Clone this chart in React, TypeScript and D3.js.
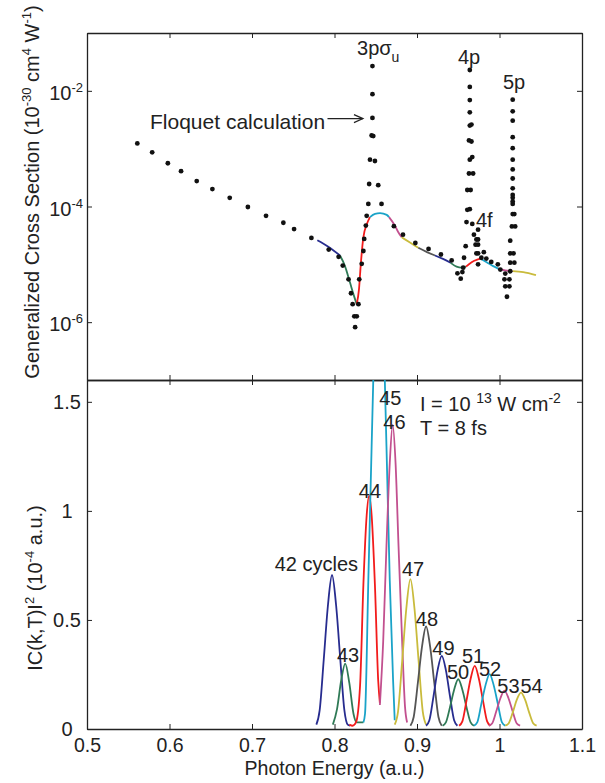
import { useEffect, useRef } from 'react';
import * as d3 from 'd3';

const W = 605;
const H = 783;
const FONT = "'Liberation Sans', Arial, Helvetica, sans-serif";

const xTicks = [0.5, 0.6, 0.7, 0.8, 0.9, 1, 1.1];
const logTicks = [1e-6, 1e-4, 1e-2];
const linTicks = [0, 0.5, 1, 1.5];

const cycles = [42, 43, 44, 45, 46, 47, 48, 49, 50, 51, 52, 53, 54];
const colors = ['#272c8f', '#2f7a56', '#f21c1c', '#1aa3c8', '#c2508f', '#c9bb3c', '#555555',
  '#272c8f', '#2f7a56', '#f21c1c', '#1aa3c8', '#c2508f', '#c9bb3c'];

// Floquet calculation (photon energy, cross section)
const floquet: [number, number][] = [
  [0.561, 1.23e-3], [0.579, 8.65e-4], [0.598, 5.6e-4], [0.614, 4.08e-4], [0.633, 2.75e-4],
  [0.652, 2.0e-4], [0.673, 1.41e-4], [0.695, 9.8e-5], [0.717, 6.9e-5], [0.738, 5.24e-5],
  [0.751, 4.07e-5], [0.772, 2.86e-5], [0.793, 1.8e-5], [0.805, 1.35e-5], [0.810, 9.5e-6],
  [0.817, 5.5e-6], [0.820, 3.16e-6], [0.822, 2.05e-6], [0.829, 2.05e-6], [0.824, 1.26e-6],
  [0.827, 1.26e-6], [0.825, 8.2e-7],
  [0.830, 5.5e-6], [0.833, 1.02e-5], [0.835, 1.7e-5], [0.836, 2.75e-5], [0.838, 4.68e-5],
  [0.839, 6.9e-5], [0.841, 1.11e-4], [0.842, 2.45e-4], [0.843, 6.46e-4], [0.845, 1.69e-3],
  [0.847, 1.65e-3], [0.846, 3.4e-3], [0.846, 8.77e-3], [0.846, 2.68e-2],
  [0.849, 6.12e-4], [0.853, 2.34e-4], [0.857, 1.11e-4], [0.872, 4.57e-5], [0.883, 3.26e-5],
  [0.898, 2.34e-5], [0.914, 1.85e-5], [0.929, 1.48e-5], [0.942, 1.17e-5],
  [0.949, 6.98e-6], [0.953, 5.66e-6], [0.955, 7.35e-6], [0.956, 8.75e-6], [0.957, 1.3e-5],
  [0.959, 2.06e-5], [0.960, 5.37e-5], [0.961, 8.75e-5], [0.964, 9.0e-5], [0.961, 1.93e-4],
  [0.965, 1.93e-4], [0.963, 3.72e-4], [0.968, 3.72e-4], [0.964, 6.46e-4], [0.967, 7.16e-4],
  [0.963, 1.39e-3], [0.966, 1.33e-3], [0.964, 2.51e-3], [0.966, 2.61e-3], [0.964, 4.25e-3],
  [0.964, 6.92e-3], [0.964, 1.17e-2], [0.964, 2.29e-2],
  [0.967, 5.0e-5], [0.969, 3.26e-5], [0.974, 3.98e-5], [0.972, 2.69e-5], [0.974, 2.69e-5],
  [0.971, 2.19e-5], [0.974, 2.19e-5], [0.972, 1.55e-5], [0.974, 1.55e-5], [0.981, 1.62e-5],
  [0.978, 1.3e-5], [0.984, 1.26e-5], [0.990, 1.1e-5], [0.974, 1.0e-5],
  [0.998, 1.0e-5], [1.001, 8.13e-6], [1.007, 6.92e-6], [1.006, 5.5e-6], [1.012, 5.5e-6],
  [1.007, 4.17e-6], [1.012, 4.17e-6], [1.009, 2.75e-6], [1.013, 7.59e-6], [1.013, 1.07e-5],
  [1.018, 1.07e-5], [1.013, 1.55e-5], [1.017, 1.55e-5], [1.013, 2.57e-5], [1.015, 4.52e-5],
  [1.019, 4.52e-5], [1.016, 7.41e-5], [1.018, 7.41e-5], [1.016, 1.11e-4], [1.016, 1.22e-4],
  [1.016, 1.41e-4], [1.016, 1.58e-4], [1.016, 2.06e-4], [1.016, 3.05e-4], [1.016, 4.37e-4],
  [1.016, 6.46e-4], [1.016, 1.02e-3], [1.016, 1.58e-3], [1.016, 3.05e-3], [1.016, 4.42e-3],
  [1.016, 7.02e-3],
];

// cross section extracted from each pulse (one segment per cycle count)
const sectionSegments: [number, number][][] = [
  [[0.7792, 2.6e-5], [0.792, 2.03e-5], [0.8067, 1.42e-5]],
  [[0.8067, 1.42e-5], [0.8127, 9.33e-6], [0.8188, 4.83e-6], [0.8236, 2.85e-6], [0.8269, 2.05e-6]],
  [[0.8269, 2.05e-6], [0.8297, 3.72e-6], [0.8317, 9.33e-6], [0.8349, 2.86e-5], [0.8397, 5.18e-5], [0.843, 6.56e-5]],
  [[0.843, 6.56e-5], [0.8491, 7.46e-5], [0.8552, 7.67e-5], [0.8633, 7.18e-5], [0.8661, 6.56e-5]],
  [[0.8661, 6.56e-5], [0.8733, 4.65e-5], [0.877, 3.66e-5], [0.8815, 2.93e-5]],
  [[0.8815, 2.93e-5], [0.8915, 2.38e-5], [0.9016, 1.93e-5]],
  [[0.9016, 1.93e-5], [0.9121, 1.63e-5], [0.9218, 1.42e-5]],
  [[0.9218, 1.42e-5], [0.9315, 1.24e-5], [0.9408, 1.06e-5]],
  [[0.9408, 1.06e-5], [0.948, 9.1e-6], [0.9541, 8.75e-6], [0.9594, 9.1e-6]],
  [[0.9594, 9.1e-6], [0.9662, 1.09e-5], [0.973, 1.21e-5], [0.9771, 1.25e-5]],
  [[0.9771, 1.25e-5], [0.9844, 1.09e-5], [0.9924, 9.3e-6], [0.9985, 8.43e-6]],
  [[0.9985, 8.43e-6], [1.0067, 7.85e-6], [1.0159, 7.64e-6]],
  [[1.0159, 7.64e-6], [1.0288, 7.35e-6], [1.0442, 6.53e-6]],
];

// |C(k,T)|^2 for each pulse length
const spectra: [number, number][][] = [
  [[0.778, 0.02], [0.782, 0.085], [0.787, 0.32], [0.792, 0.565], [0.797, 0.706], [0.802, 0.565], [0.807, 0.32], [0.812, 0.085], [0.816, 0.02], [0.819, 0.015]],
  [[0.798, 0.02], [0.803, 0.09], [0.808, 0.22], [0.813, 0.30], [0.818, 0.21], [0.823, 0.07], [0.827, 0.03], [0.835, 0.03]],
  [[0.818, 0.02], [0.822, 0.015], [0.826, 0.03], [0.831, 0.2], [0.835, 0.66], [0.839, 0.98], [0.842, 1.07], [0.845, 0.98], [0.849, 0.66], [0.853, 0.22], [0.855, 0.12]],
  [[0.835, 0.03], [0.837, 0.07], [0.841, 0.68], [0.844, 1.14], [0.847, 1.6], [0.850, 2.0], [0.854, 2.3], [0.858, 2.0], [0.861, 1.6], [0.864, 1.14], [0.867, 0.68], [0.871, 0.225], [0.873, 0.04]],
  [[0.855, 0.11], [0.859, 0.4], [0.863, 0.84], [0.867, 1.22], [0.8705, 1.394], [0.874, 1.22], [0.8776, 0.84], [0.882, 0.4], [0.8855, 0.1], [0.888, 0.03]],
  [[0.873, 0.02], [0.877, 0.08], [0.882, 0.31], [0.887, 0.55], [0.892, 0.687], [0.897, 0.55], [0.902, 0.31], [0.907, 0.08], [0.911, 0.02]],
  [[0.892, 0.015], [0.896, 0.055], [0.901, 0.21], [0.906, 0.375], [0.911, 0.47], [0.916, 0.375], [0.921, 0.21], [0.926, 0.055], [0.930, 0.015]],
  [[0.911, 0.015], [0.915, 0.04], [0.920, 0.15], [0.925, 0.27], [0.930, 0.335], [0.935, 0.27], [0.940, 0.15], [0.945, 0.04], [0.949, 0.015]],
  [[0.931, 0.015], [0.935, 0.03], [0.940, 0.10], [0.945, 0.18], [0.950, 0.228], [0.955, 0.18], [0.960, 0.10], [0.965, 0.03], [0.969, 0.015]],
  [[0.951, 0.015], [0.955, 0.035], [0.960, 0.13], [0.965, 0.23], [0.970, 0.289], [0.975, 0.23], [0.980, 0.13], [0.985, 0.035], [0.989, 0.015]],
  [[0.969, 0.015], [0.973, 0.03], [0.978, 0.115], [0.983, 0.20], [0.988, 0.252], [0.993, 0.20], [0.998, 0.115], [1.003, 0.03], [1.007, 0.015]],
  [[0.987, 0.015], [0.991, 0.025], [0.996, 0.08], [1.001, 0.14], [1.006, 0.176], [1.011, 0.14], [1.016, 0.08], [1.021, 0.025], [1.025, 0.015]],
  [[1.007, 0.015], [1.011, 0.025], [1.016, 0.075], [1.021, 0.135], [1.026, 0.167], [1.031, 0.135], [1.036, 0.075], [1.041, 0.025], [1.045, 0.015]],
];

// label anchor (energy, value) for each cycle count
const cycleLabels: [number, number][] = [
  [0.778, 0.724], [0.8164, 0.307], [0.843, 1.06], [0.8676, 1.486], [0.8727, 1.376], [0.8952, 0.702],
  [0.9121, 0.472], [0.9321, 0.339], [0.9497, 0.229], [0.9679, 0.303], [0.9885, 0.243], [1.0109, 0.165], [1.0388, 0.165],
];

export default function App() {
  const svgRef = useRef<SVGSVGElement>(null);

  useEffect(() => {
    if (!svgRef.current) return;
    const svg = d3.select(svgRef.current);
    svg.selectAll('*').remove();

    const left = 87, right = 582, top = 33, mid = 380, bottom = 729;
    const x = d3.scaleLinear().domain([0.5, 1.1]).range([left, right]);
    const yLog = d3.scaleLog().domain([1e-7, 1e-1]).range([mid, top]);
    const yLin = d3.scaleLinear().domain([0, 1.6]).range([bottom, mid]);

    const root = svg.append('g').attr('font-family', FONT).attr('fill', '#222');

    const styleAxis = (g: any) => {
      g.select('.domain').attr('stroke', '#222').attr('stroke-width', 1.3);
      g.selectAll('.tick line').attr('stroke', '#222').attr('stroke-width', 1);
      g.selectAll('text').attr('font-family', FONT).attr('font-size', 19.5).attr('fill', '#222');
    };
    const blank = () => '';

    // frames + inward ticks
    root.append('g').attr('transform', `translate(0,${top})`)
      .call(d3.axisTop(x).tickValues(xTicks).tickSize(-5).tickSizeOuter(0).tickFormat(blank)).call(styleAxis);
    root.append('g').attr('transform', `translate(0,${mid})`)
      .call(d3.axisBottom(x).tickValues(xTicks).tickSize(-5).tickSizeOuter(0).tickFormat(blank)).call(styleAxis);
    root.append('g').attr('transform', `translate(0,${mid})`)
      .call(d3.axisTop(x).tickValues(xTicks).tickSize(-5).tickSizeOuter(0).tickFormat(blank)).call(styleAxis);
    root.append('g').attr('transform', `translate(0,${bottom})`)
      .call(d3.axisBottom(x).tickValues(xTicks).tickSize(-5).tickSizeOuter(0).tickPadding(9)
        .tickFormat(d => d3.format('~g')(d as number))).call(styleAxis);

    root.append('g').attr('transform', `translate(${left},0)`)
      .call(d3.axisLeft(yLog).tickValues(logTicks).tickSize(-5).tickSizeOuter(0).tickFormat(blank)).call(styleAxis);
    root.append('g').attr('transform', `translate(${right},0)`)
      .call(d3.axisRight(yLog).tickValues(logTicks).tickSize(-5).tickSizeOuter(0).tickFormat(blank)).call(styleAxis);
    root.append('g').attr('transform', `translate(${left},0)`)
      .call(d3.axisLeft(yLin).tickValues(linTicks).tickSize(-5).tickSizeOuter(0).tickFormat(blank)).call(styleAxis);
    root.append('g').attr('transform', `translate(${right},0)`)
      .call(d3.axisRight(yLin).tickValues(linTicks).tickSize(-5).tickSizeOuter(0).tickFormat(blank)).call(styleAxis);

    // log tick labels 10^n
    logTicks.forEach(v => {
      const t = root.append('text').attr('x', 83).attr('y', yLog(v) + 9)
        .attr('text-anchor', 'end').attr('font-size', 20);
      t.append('tspan').text('10');
      t.append('tspan').attr('dy', -8).attr('font-size', 13).text(String(Math.round(Math.log10(v))));
    });
    linTicks.forEach(v => {
      root.append('text').attr('x', 67).attr('y', yLin(v) + 7).attr('text-anchor', 'middle')
        .attr('font-size', 20).text(d3.format('~g')(v));
    });

    // axis titles
    const t1 = root.append('text').attr('transform', 'translate(39,192) rotate(-90)')
      .attr('text-anchor', 'middle').attr('font-size', 20);
    t1.append('tspan').text('Generalized Cross Section (10');
    t1.append('tspan').attr('dy', -8).attr('font-size', 13).text('-30');
    t1.append('tspan').attr('dy', 8).text(' cm');
    t1.append('tspan').attr('dy', -8).attr('font-size', 13).text('4');
    t1.append('tspan').attr('dy', 8).text(' W');
    t1.append('tspan').attr('dy', -8).attr('font-size', 13).text('-1');
    t1.append('tspan').attr('dy', 8).text(')');

    const t2 = root.append('text').attr('transform', 'translate(42,588) rotate(-90)')
      .attr('text-anchor', 'middle').attr('font-size', 20);
    t2.append('tspan').text('IC(k,T)I');
    t2.append('tspan').attr('dy', -8).attr('font-size', 13).text('2');
    t2.append('tspan').attr('dy', 8).text(' (10');
    t2.append('tspan').attr('dy', -8).attr('font-size', 13).text('-4');
    t2.append('tspan').attr('dy', 8).text(' a.u.)');

    root.append('text').attr('x', (left + right) / 2).attr('y', 775).attr('text-anchor', 'middle')
      .attr('font-size', 19.5).text('Photon Energy (a.u.)');

    // top panel: theory segments + Floquet dots
    const lineLog = d3.line<[number, number]>().x(d => x(d[0])).y(d => yLog(d[1])).curve(d3.curveMonotoneX);
    sectionSegments.forEach((seg, i) => {
      root.append('path').attr('d', lineLog(seg)).attr('fill', 'none')
        .attr('stroke', colors[i]).attr('stroke-width', 1.8);
    });
    root.append('g').selectAll('circle').data(floquet).join('circle')
      .attr('cx', d => x(d[0])).attr('cy', d => yLog(d[1])).attr('r', 2.4).attr('fill', '#111');

    // top annotations
    const ann = (e: number, v: number, s: string, fs = 20) =>
      root.append('text').attr('x', x(e)).attr('y', yLog(v)).attr('font-size', fs).text(s);
    const s3 = ann(0.8273, 0.0414, '3p\u03c3');
    s3.append('tspan').attr('dy', 7).attr('font-size', 14).text('u');
    ann(0.9497, 0.029, '4p');
    ann(1.0042, 0.0108, '5p');
    ann(0.9715, 4.47e-5, '4f');
    ann(0.5764, 2.23e-3, 'Floquet calculation', 21);
    const ay = yLog(3.31e-3);
    const ax0 = x(0.7915), ax1 = x(0.8345);
    root.append('line').attr('x1', ax0).attr('x2', ax1).attr('y1', ay).attr('y2', ay)
      .attr('stroke', '#222').attr('stroke-width', 1.2);
    root.append('path').attr('d', `M${ax1 - 9},${ay - 4}L${ax1},${ay}L${ax1 - 9},${ay + 4}`)
      .attr('fill', 'none').attr('stroke', '#222').attr('stroke-width', 1.2);

    // bottom panel: spectra
    svg.append('defs').append('clipPath').attr('id', 'clipB').append('rect')
      .attr('x', left).attr('y', mid).attr('width', right - left).attr('height', bottom - mid);
    const lineLin = d3.line<[number, number]>().x(d => x(d[0])).y(d => yLin(d[1])).curve(d3.curveMonotoneX);
    const gB = root.append('g').attr('clip-path', 'url(#clipB)');
    spectra.forEach((s, i) => {
      gB.append('path').attr('d', lineLin(s)).attr('fill', 'none')
        .attr('stroke', colors[i]).attr('stroke-width', 1.8);
    });
    cycleLabels.forEach((p, i) => {
      root.append('text').attr('x', x(p[0])).attr('y', yLin(p[1])).attr('text-anchor', 'middle')
        .attr('font-size', 20).text(i === 0 ? `${cycles[i]} cycles` : String(cycles[i]));
    });

    const t3 = root.append('text').attr('x', 420).attr('y', 411).attr('font-size', 20);
    t3.append('tspan').text('I = 10 ');
    t3.append('tspan').attr('dy', -8).attr('font-size', 14).text('13');
    t3.append('tspan').attr('dy', 8).text(' W cm');
    t3.append('tspan').attr('dy', -8).attr('font-size', 14).text('-2');
    root.append('text').attr('x', 420).attr('y', 435).attr('font-size', 20).text('T = 8 fs');
  }, []);

  return (
    <div style={{ position: 'absolute', left: 0, top: 0, width: W, height: H, background: '#fff' }}>
      <svg ref={svgRef} width={W} height={H} />
    </div>
  );
}
